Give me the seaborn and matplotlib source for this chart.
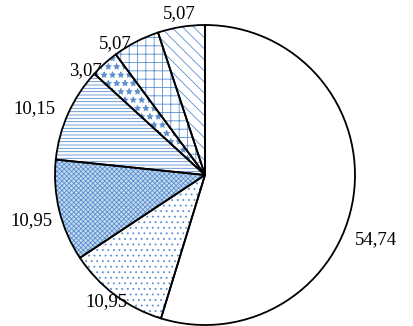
import numpy as np
import matplotlib
matplotlib.use("Agg")
import matplotlib.pyplot as plt
import seaborn as sns

values = [54.74, 10.95, 10.95, 10.15, 3.07, 5.07, 5.07]
labels = ["54,74", "10,95", "10,95", "10,15", "3,07", "5,07", "5,07"]
faces = ["white", "white", "#c5dbef", "white", "white", "white", "white"]
hatches = [None, "...", "xxxxxxx", "-----", "**", "++", "\\\\\\"]
label_dist = [1.22, 1.07, 1.2, 1.22, 1.06, 1.06, 1.09]
label_shift = [-12, -1, 1, 3, 7, 7, 0]

sns.set_theme(style="white")
plt.rcParams['font.family'] = ['Liberation Serif', 'DejaVu Serif']
plt.rcParams['hatch.linewidth'] = 0.6

fig = plt.figure(figsize=(4.13, 3.26), dpi=100)
ax = fig.add_axes([0, 0, 1, 1])

# pass 1: faces + blue hatches
wedges, _ = ax.pie(values, startangle=90, counterclock=False, colors=faces,
                   wedgeprops=dict(linewidth=0, edgecolor="#5b8fd0"))
for w, h in zip(wedges, hatches):
    if h:
        w.set_hatch(h)

# pass 2: black outlines
wedges2, _ = ax.pie(values, startangle=90, counterclock=False,
                    wedgeprops=dict(fill=False, linewidth=1.3, edgecolor="black"))

for w, lab, d, s in zip(wedges2, labels, label_dist, label_shift):
    ang = np.deg2rad((w.theta1 + w.theta2) / 2 + s)
    ax.text(d * np.cos(ang), d * np.sin(ang), lab, ha="center", va="center",
            fontsize=13.5, color="black")

ax.set_xlim(-205 / 150, 208 / 150)
ax.set_ylim(-151 / 150, 175 / 150)
ax.set_aspect("equal")
ax.axis("off")

fig.savefig("out.png", dpi=100)
